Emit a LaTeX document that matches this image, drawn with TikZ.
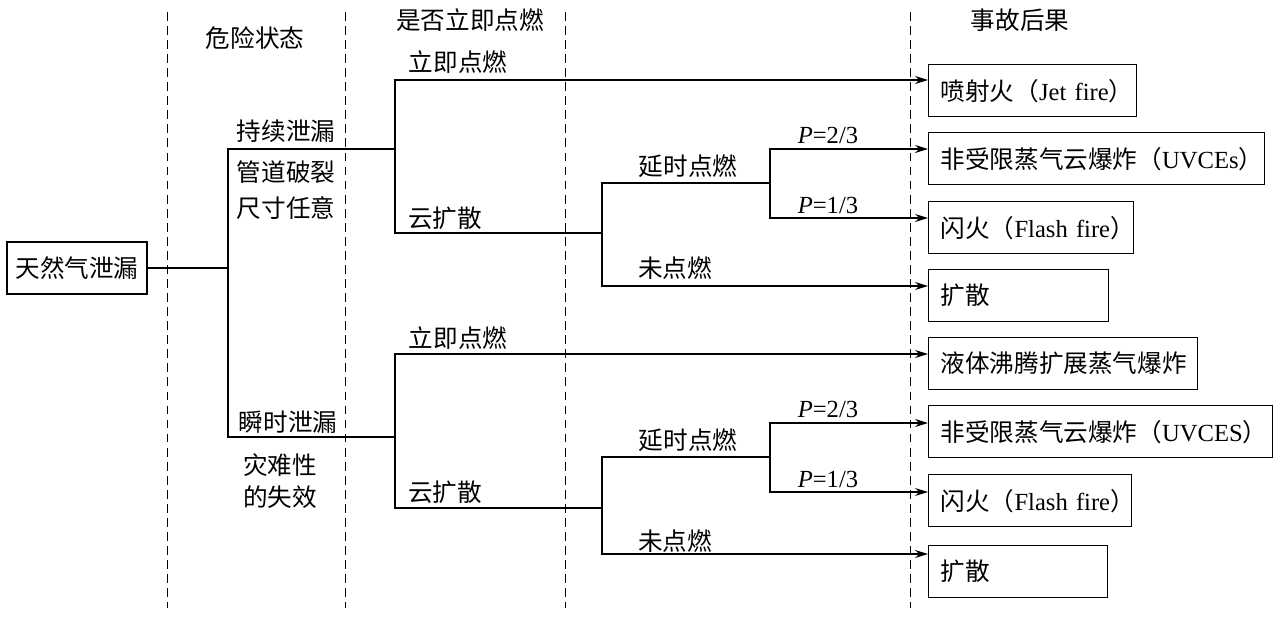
\documentclass[tikz,border=0pt]{standalone}
\usepackage{fontspec}
\setmainfont{Liberation Serif}
\newfontfamily\cjk{Noto Sans CJK SC}
\usetikzlibrary{arrows.meta, positioning}

\begin{document}
\begin{tikzpicture}[x=0.02cm, y=-0.02cm, >={Stealth[length=0.26cm, width=0.16cm]},
    every node/.style={font=\cjk\fontsize{14}{17}\selectfont, inner sep=1pt},
    outbox/.style={draw, line width=0.8pt, anchor=north west, align=left, minimum height=1.04cm, inner xsep=0.24cm, text width=#1},
    branch/.style={line width=0.8pt},
    divider/.style={line width=0.5pt, dash pattern=on 5pt off 3pt},
    prob/.style={font=\rmfamily\fontsize{14}{17}\selectfont, anchor=base}]
    \useasboundingbox (0,0) rectangle (1280,618);

    % column dividers and headers
    \foreach \x in {167,345,565,910}
        \draw[divider] (\x,12) -- (\x,608);
    \node (hdrstate) at (255,38) {危险状态};
    \node (hdrignite) at (470,20) {是否立即点燃};
    \node (hdrresult) at (1020,20) {事故后果};

    % root
    \node (leak) [draw, line width=0.8pt, minimum width=2.8cm, minimum height=1.04cm, inner xsep=0.1cm] at (77,268) {天然气泄漏};

    % junctions
    \coordinate (jA) at (228,268);
    \coordinate (jB1) at (395,149);
    \coordinate (jC1) at (602,233);
    \coordinate (jD1) at (770,183);
    \coordinate (jB2) at (395,437);
    \coordinate (jC2) at (602,508);
    \coordinate (jD2) at (770,457);

    % outcomes
    \node (jet1) [outbox=3.68cm] at (928,64) {\mbox{喷射火（{\rmfamily Jet fire}）}};
    \node (uvce1) [outbox=6.24cm] at (928,132) {\mbox{非受限蒸气云爆炸（{\rmfamily UVCEs}）}};
    \node (flash1) [outbox=3.62cm] at (928,201) {\mbox{闪火（{\rmfamily Flash fire}）}};
    \node (disp1) [outbox=3.12cm] at (928,269) {扩散};
    \node (bleve2) [outbox=4.90cm] at (928,337) {液体沸腾扩展蒸气爆炸};
    \node (uvce2) [outbox=6.40cm] at (928,405) {\mbox{非受限蒸气云爆炸（{\rmfamily UVCES}）}};
    \node (flash2) [outbox=3.58cm] at (928,474) {\mbox{闪火（{\rmfamily Flash fire}）}};
    \node (disp2) [outbox=3.10cm] at (928,545) {扩散};

    % branch labels
    \node (cont) at (286,131) {持续泄漏};
    \node (pipe) at (286,172) {管道破裂};
    \node (size) at (286,208) {尺寸任意};
    \node (inst) at (288,422) {瞬时泄漏};
    \node (cata) at (280,465) {灾难性};
    \node (fail) at (280,497) {的失效};
    \node (now1) at (458,62) {立即点燃};
    \node (cloud1) at (445,218) {云扩散};
    \node (late1) at (688,166) {延时点燃};
    \node (none1) at (675,268) {未点燃};
    \node (now2) at (458,338) {立即点燃};
    \node (cloud2) at (445,492) {云扩散};
    \node (late2) at (688,440) {延时点燃};
    \node (none2) at (675,541) {未点燃};
    \node (pa1) [prob] at (828,144) {\textit{P}=2/3};
    \node (pb1) [prob] at (828,214) {\textit{P}=1/3};
    \node (pa2) [prob] at (828,417) {\textit{P}=2/3};
    \node (pb2) [prob] at (828,487) {\textit{P}=1/3};

    % tree
    \draw[branch] (leak) -- (jA);
    \draw[branch] (jA) |- (jB1);
    \draw[branch] (jA) |- (jB2);

    \draw[branch, ->] (jB1) |- ([yshift=-0.32cm]jet1.north west);
    \draw[branch] (jB1) |- (jC1);
    \draw[branch] (jC1) |- (jD1);
    \draw[branch, ->] (jD1) |- ([yshift=-0.34cm]uvce1.north west);
    \draw[branch, ->] (jD1) |- ([yshift=-0.34cm]flash1.north west);
    \draw[branch, ->] (jC1) |- ([yshift=-0.34cm]disp1.north west);

    \draw[branch, ->] (jB2) |- ([yshift=-0.34cm]bleve2.north west);
    \draw[branch] (jB2) |- (jC2);
    \draw[branch] (jC2) |- (jD2);
    \draw[branch, ->] (jD2) |- ([yshift=-0.36cm]uvce2.north west);
    \draw[branch, ->] (jD2) |- ([yshift=-0.36cm]flash2.north west);
    \draw[branch, ->] (jC2) |- ([yshift=-0.18cm]disp2.north west);
\end{tikzpicture}
\end{document}
